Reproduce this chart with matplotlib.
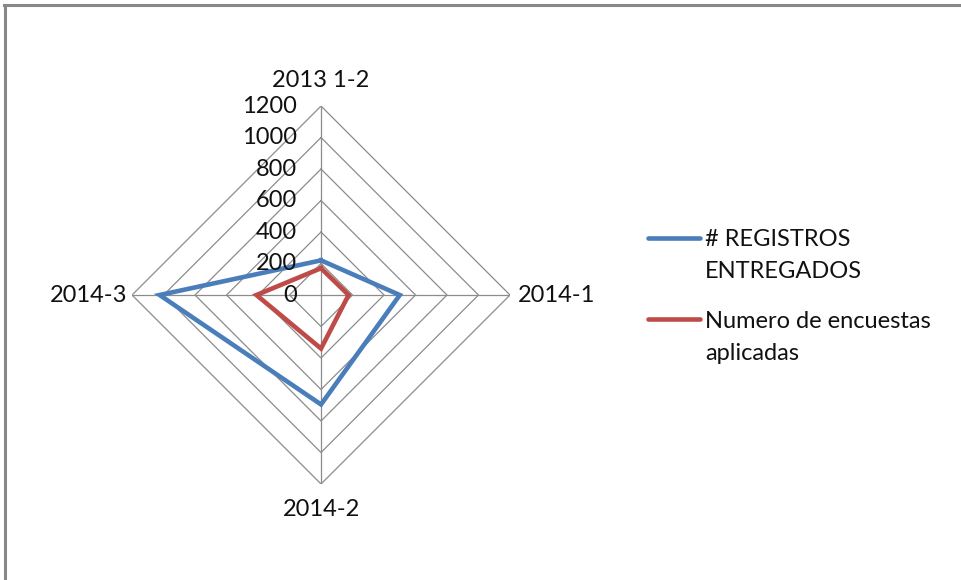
import numpy as np
import matplotlib.pyplot as plt
from matplotlib.lines import Line2D
from matplotlib.transforms import offset_copy

plt.rcParams['font.family'] = ['Lato', 'DejaVu Sans']

# Radar data: one value per period, clockwise from the top
categories = ["2013 1-2", "2014-1", "2014-2", "2014-3"]
registros = [220, 500, 695, 1025]
encuestas = [170, 175, 340, 410]
series_names = [["# REGISTROS", "ENTREGADOS"], ["Numero de encuestas", "aplicadas"]]
rings = [0, 200, 400, 600, 800, 1000, 1200]

BLUE = "#4a7ebb"
RED = "#be4b48"
GRID = "#8c8c8c"
FS = 17

W, H = 961, 580
fig = plt.figure(figsize=(W / 100, H / 100), dpi=100)


def px(x, y):
    # pixel position (from the top left) -> figure fraction
    return x / W, 1 - y / H


# frame lines along the top and left edge
fig.add_artist(Line2D([0.005, 0.005], [0, 0.992], color="#888888", lw=2.2,
                      transform=fig.transFigure))
fig.add_artist(Line2D([0.004, 1.0], [0.9915, 0.9915], color="#888888", lw=2.2,
                      transform=fig.transFigure))

ax = fig.add_axes([0.1374, 0.1655, 0.3933, 0.6517], projection="polar")
ax.set_theta_zero_location("N")
ax.set_theta_direction(-1)
ax.set_ylim(0, 1200)
ax.grid(False)
ax.set_xticks([])
ax.set_yticks([])
ax.spines["polar"].set_visible(False)
ax.patch.set_alpha(0)

n = len(categories)
theta = np.arange(n) * 2 * np.pi / n
closed = np.append(theta, theta[0])

# polygonal rings and spokes
for r in rings[1:]:
    ax.plot(closed, [r] * (n + 1), color=GRID, lw=0.9, zorder=1)
for t in theta:
    ax.plot([t, t], [0, rings[-1]], color=GRID, lw=0.9, zorder=1)

ax.plot(closed, registros + registros[:1], color=BLUE, lw=3.3, zorder=3,
        solid_joinstyle="miter")
ax.plot(closed, encuestas + encuestas[:1], color=RED, lw=3.3, zorder=3,
        solid_joinstyle="miter")

# radial tick labels along the top spoke
tick_tr = offset_copy(ax.transData, fig=fig, x=-24, y=0, units="dots")
for r in rings:
    ax.text(0, r, str(r), transform=tick_tr, ha="right", va="center",
            fontsize=FS, color="#111111")

# category labels around the outside
label_offsets = [(0, 26, "center", "center"), (8, 0, "left", "center"),
                 (0, -26, "center", "center"), (-5, 0, "right", "center")]
for t, name, (dx, dy, ha, va) in zip(theta, categories, label_offsets):
    tr = offset_copy(ax.transData, fig=fig, x=dx, y=dy, units="dots")
    ax.text(t, rings[-1], name, transform=tr, ha=ha, va=va,
            fontsize=FS, color="#111111")

# legend: handle sits on the first text line, wrapped lines below
for (y0, color, lines) in [(238, BLUE, series_names[0]), (319, RED, series_names[1])]:
    x0, yf = px(648, y0)
    x1, _ = px(700, y0)
    fig.add_artist(Line2D([x0, x1], [yf, yf], color=color, lw=3.3,
                          solid_capstyle="round", transform=fig.transFigure))
    for i, line in enumerate(lines):
        tx, ty = px(705, y0 + 8.5 + 32 * i)
        fig.text(tx, ty, line, ha="left", va="baseline", fontsize=FS,
                 color="#111111")

fig.savefig("out.png", dpi=100, facecolor="white")
